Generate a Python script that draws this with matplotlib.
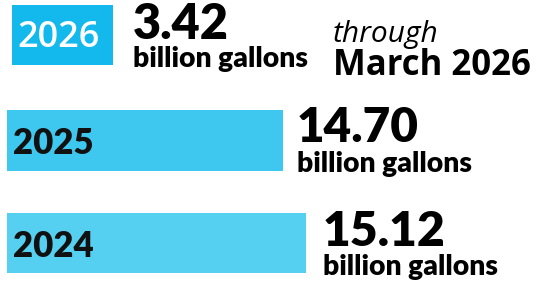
import matplotlib
matplotlib.use("Agg")
import matplotlib.pyplot as plt

# data
years = ["2026", "2025", "2024"]
values = ["3.42", "14.70", "15.12"]
unit = "billion gallons"
bar_length = [101, 276, 299]   # drawn bar lengths as they appear
note_top, note_bottom = "through", "March 2026"

# layout (pixel space, y down)
bar_left = [12, 7, 7]
bar_y = [35, 140.5, 243]
bar_h = [60, 61, 60]
colors = ["#13b8ec", "#3ec8ef", "#56d0f1"]

fig = plt.figure(figsize=(5.38, 2.84), dpi=100)
ax = fig.add_axes([0, 0, 1, 1])
ax.set_xlim(0, 538); ax.set_ylim(284, 0); ax.axis("off")

for i in range(3):
    ax.barh(bar_y[i], bar_length[i], height=bar_h[i], left=bar_left[i],
            color=colors[i], edgecolor="none")

W = "heavy"
# year labels inside bars
ax.text(17, 47, years[0], color="white", fontsize=26, family="Open Sans",
        fontweight="semibold", va="baseline", ha="left")
ax.text(13, 154, years[1], color="#111", fontsize=25, family="Lato",
        fontweight=W, va="baseline", ha="left")
ax.text(13, 257, years[2], color="#111", fontsize=25, family="Lato",
        fontweight=W, va="baseline", ha="left")

# values + unit
val_pos = [(133, 39, 35), (297, 142, 34.3), (323, 246, 34.6)]
unit_pos = [(133, 67), (297, 172), (323, 275)]
for i in range(3):
    x, y, fs = val_pos[i]
    ax.text(x, y, values[i], fontsize=fs, family="Lato", fontweight=W,
            color="#000", va="baseline", ha="left")
    ux, uy = unit_pos[i]
    ax.text(ux, uy, unit, fontsize=20.3, family="Lato", fontweight=W,
            color="#000", va="baseline", ha="left")

ax.text(333, 42, note_top, fontsize=21.5, family="Open Sans", style="italic",
        color="#000", va="baseline", ha="left")
ax.text(333, 75, note_bottom, fontsize=25, family="Open Sans", fontweight="bold",
        color="#000", va="baseline", ha="left")

fig.savefig("out.png", dpi=100)
